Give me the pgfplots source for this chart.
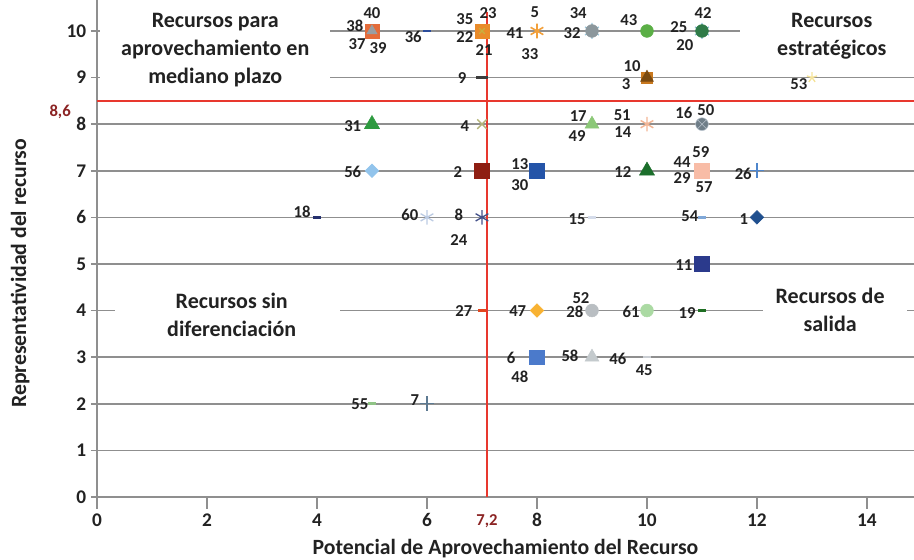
\documentclass[border=0pt]{standalone}
\usepackage{pgfplots}
\pgfplotsset{compat=1.18}
\usepackage{fontspec}
\setmainfont{Carlito}

\definecolor{gridgray}{HTML}{8F8F8F}
\definecolor{redline}{HTML}{E8382E}
\definecolor{darkred}{HTML}{8B2323}
\definecolor{txt}{HTML}{222222}

\pgfplotsset{
  dot/.style={only marks, mark options={solid}},
}
\tikzset{
  lbl/.style={font=\fontsize{12.5}{14}\selectfont\bfseries, inner sep=0pt, text=txt},
  quad/.style={font=\fontsize{16.5}{21}\selectfont\bfseries, align=center, text=txt},
}

\begin{document}
\begin{tikzpicture}
\begin{axis}[
  scale only axis,
  width=612.8pt, height=372.7pt,
  xmin=0, xmax=14.855, ymin=0, ymax=10.665,
  axis x line=bottom, axis y line=left,
  axis line style={-, gridgray, line width=1.2pt},
  xtick={0,2,...,14}, ytick={0,1,...,10},
  ymajorgrids,
  grid style={gridgray, line width=1.2pt},
  ytick align=center, xtick align=outside,
  major tick length=9pt,
  tick style={gridgray, line width=1.2pt},
  tick label style={font=\fontsize{14.5}{17}\selectfont\bfseries, text=txt},
  /pgf/number format/assume math mode=true,
  xlabel={Potencial de Aprovechamiento del Recurso},
  ylabel={Representatividad del recurso},
  label style={font=\fontsize{16.3}{19}\selectfont\bfseries, text=txt},
  xlabel style={at={(axis description cs:0.5,0)}, anchor=center, yshift=-39pt},
  ylabel style={at={(axis description cs:-0.094,0.45)}, anchor=center},
  clip=false,
]

% white boxes behind the quadrant titles
\fill[white] (axis cs:0.05,8.63) rectangle (axis cs:4.24,10.56);
\fill[white] (axis cs:11.69,9.27) rectangle (axis cs:14.855,10.56);
\fill[white] (axis cs:0.33,3.33) rectangle (axis cs:4.42,4.61);
\fill[white] (axis cs:12.11,3.33) rectangle (axis cs:14.73,4.61);

% --- y = 10
\addplot[dot, mark=square*, mark size=5.3pt, color={rgb,255:red,228;green,108;blue,58}] coordinates {(5,10)};
\addplot[dot, mark=triangle*, mark size=4.5pt, color={rgb,255:red,154;green,158;blue,162}] coordinates {(5,10)};
\addplot[dot, mark=-, mark size=3pt, line width=2pt, color={rgb,255:red,43;green,76;blue,155}] coordinates {(6,10)};
\addplot[dot, mark=square*, mark size=5.3pt, color={rgb,255:red,233;green,139;blue,42}] coordinates {(7,10)};
\addplot[dot, mark=x, mark size=3pt, line width=1pt, color={rgb,255:red,200;green,176;blue,64}] coordinates {(7,10)};
\addplot[dot, mark=asterisk, mark size=5.5pt, line width=1.2pt, color={rgb,255:red,242;green,160;blue,58}] coordinates {(8,10)};
\addplot[dot, mark=asterisk, mark size=6pt, line width=1pt, color={rgb,255:red,156;green,200;blue,220}] coordinates {(9,10)};
\addplot[dot, mark=*, mark size=4.8pt, color={rgb,255:red,140;green,151;blue,156}] coordinates {(9,10)};
\addplot[dot, mark=*, mark size=4.8pt, color={rgb,255:red,91;green,175;blue,70}] coordinates {(10,10)};
\addplot[dot, mark=asterisk, mark size=6pt, line width=1pt, color={rgb,255:red,140;green,192;blue,216}] coordinates {(11,10)};
\addplot[dot, mark=*, mark size=4.8pt, color={rgb,255:red,47;green,123;blue,72}] coordinates {(11,10)};

% --- y = 9
\addplot[dot, mark=-, mark size=4.5pt, line width=2.2pt, color={rgb,255:red,60;green,60;blue,60}] coordinates {(7,9)};
\addplot[dot, mark=square*, mark size=4pt, color={rgb,255:red,200;green,120;blue,30}] coordinates {(10,9)};
\addplot[dot, mark=triangle*, mark size=5.5pt, color={rgb,255:red,122;green,74;blue,16}] coordinates {(10,9)};
\addplot[dot, mark=star, mark size=4pt, line width=1pt, color={rgb,255:red,245;green,227;blue,154}] coordinates {(13,9)};

% --- y = 8
\addplot[dot, mark=triangle*, mark size=6.5pt, color={rgb,255:red,46;green,154;blue,64}] coordinates {(5,8)};
\addplot[dot, mark=x, mark size=5pt, line width=1pt, color={rgb,255:red,180;green,180;blue,120}] coordinates {(7,8)};
\addplot[dot, mark=triangle*, mark size=6pt, color={rgb,255:red,140;green,200;blue,120}] coordinates {(9,8)};
\addplot[dot, mark=asterisk, mark size=5.5pt, line width=1.1pt, color={rgb,255:red,242;green,181;blue,149}] coordinates {(10,8)};
\addplot[dot, mark=otimes*, mark size=4.8pt, draw={rgb,255:red,185;green,195;blue,205}, fill={rgb,255:red,111;green,126;blue,136}] coordinates {(11,8)};

% --- y = 7
\addplot[dot, mark=square*, mark size=3.6pt, mark options={rotate=45}, color={rgb,255:red,146;green,196;blue,236}] coordinates {(5,7)};
\addplot[dot, mark=square*, mark size=5.5pt, color={rgb,255:red,142;green,30;blue,18}] coordinates {(7,7)};
\addplot[dot, mark=square*, mark size=5.5pt, color={rgb,255:red,36;green,84;blue,168}] coordinates {(8,7)};
\addplot[dot, mark=triangle*, mark size=6.5pt, color={rgb,255:red,27;green,110;blue,43}] coordinates {(10,7)};
\addplot[dot, mark=square*, mark size=5.5pt, color={rgb,255:red,248;green,188;blue,166}] coordinates {(11,7)};
\addplot[dot, mark=+, mark size=5.5pt, line width=1pt, color={rgb,255:red,79;green,134;blue,204}] coordinates {(12,7)};

% --- y = 6
\addplot[dot, mark=-, mark size=3pt, line width=2pt, color={rgb,255:red,37;green,48;blue,110}] coordinates {(4,6)};
\addplot[dot, mark=asterisk, mark size=5.5pt, line width=1pt, color={rgb,255:red,188;green,203;blue,227}] coordinates {(6,6)};
\addplot[dot, mark=asterisk, mark size=5.5pt, line width=1pt, color={rgb,255:red,68;green,82;blue,138}] coordinates {(7,6)};
\addplot[dot, mark=-, mark size=3pt, line width=2pt, color={rgb,255:red,213;green,220;blue,234}] coordinates {(9,6)};
\addplot[dot, mark=-, mark size=3pt, line width=2pt, color={rgb,255:red,128;green,168;blue,216}] coordinates {(11,6)};
\addplot[dot, mark=square*, mark size=3.6pt, mark options={rotate=45}, color={rgb,255:red,31;green,79;blue,142}] coordinates {(12,6)};

% --- y = 5
\addplot[dot, mark=square*, mark size=5.5pt, color={rgb,255:red,43;green,58;blue,140}] coordinates {(11,5)};

% --- y = 4
\addplot[dot, mark=-, mark size=3pt, line width=2pt, color={rgb,255:red,226;green,70;blue,31}] coordinates {(7,4)};
\addplot[dot, mark=square*, mark size=3.6pt, mark options={rotate=45}, color={rgb,255:red,248;green,178;blue,50}] coordinates {(8,4)};
\addplot[dot, mark=*, mark size=4.8pt, color={rgb,255:red,185;green,190;blue,194}] coordinates {(9,4)};
\addplot[dot, mark=*, mark size=4.8pt, color={rgb,255:red,171;green,218;blue,163}] coordinates {(10,4)};
\addplot[dot, mark=-, mark size=3pt, line width=2pt, color={rgb,255:red,30;green,110;blue,34}] coordinates {(11,4)};

% --- y = 3
\addplot[dot, mark=square*, mark size=5.5pt, color={rgb,255:red,75;green,122;blue,203}] coordinates {(8,3)};
\addplot[dot, mark=triangle*, mark size=6pt, color={rgb,255:red,196;green,202;blue,205}] coordinates {(9,3)};
\addplot[dot, mark=-, mark size=3pt, line width=2pt, color={rgb,255:red,201;green,205;blue,210}] coordinates {(10,3)};

% --- y = 2
\addplot[dot, mark=-, mark size=3pt, line width=2pt, color={rgb,255:red,144;green,196;blue,134}] coordinates {(5,2)};
\addplot[dot, mark=+, mark size=5.5pt, line width=1pt, color={rgb,255:red,93;green,122;blue,146}] coordinates {(6,2)};

% thresholds
\addplot[redline, line width=2pt, mark=none] coordinates {(0,8.5) (14.855,8.5)};
\addplot[redline, line width=2pt, mark=none] coordinates {(7.09,0) (7.09,10.41)};

% point labels
\node[lbl] at (axis cs:5.00,10.39) {40};
\node[lbl] at (axis cs:4.69,10.11) {38};
\node[lbl] at (axis cs:4.73,9.72) {37};
\node[lbl] at (axis cs:5.11,9.64) {39};
\node[lbl] at (axis cs:5.75,9.87) {36};
\node[lbl] at (axis cs:6.69,10.26) {35};
\node[lbl] at (axis cs:7.11,10.39) {23};
\node[lbl] at (axis cs:6.69,9.87) {22};
\node[lbl] at (axis cs:7.04,9.59) {21};
\node[lbl] at (axis cs:7.60,9.96) {41};
\node[lbl] at (axis cs:7.96,10.41) {5};
\node[lbl] at (axis cs:7.87,9.51) {33};
\node[lbl] at (axis cs:8.75,10.39) {34};
\node[lbl] at (axis cs:8.64,9.96) {32};
\node[lbl] at (axis cs:9.67,10.24) {43};
\node[lbl] at (axis cs:11.02,10.39) {42};
\node[lbl] at (axis cs:10.58,10.09) {25};
\node[lbl] at (axis cs:10.69,9.70) {20};
\node[lbl] at (axis cs:6.64,8.99) {9};
\node[lbl] at (axis cs:9.73,9.25) {10};
\node[lbl] at (axis cs:9.62,8.86) {3};
\node[lbl] at (axis cs:12.76,8.86) {53};
\node[lbl] at (axis cs:4.65,7.96) {31};
\node[lbl] at (axis cs:6.69,7.96) {4};
\node[lbl] at (axis cs:8.75,8.18) {17};
\node[lbl] at (axis cs:8.73,7.75) {49};
\node[lbl] at (axis cs:9.55,8.20) {51};
\node[lbl] at (axis cs:9.56,7.83) {14};
\node[lbl] at (axis cs:10.67,8.24) {16};
\node[lbl] at (axis cs:11.07,8.30) {50};
\node[lbl] at (axis cs:4.65,6.97) {56};
\node[lbl] at (axis cs:6.56,6.97) {2};
\node[lbl] at (axis cs:7.69,7.15) {13};
\node[lbl] at (axis cs:7.69,6.70) {30};
\node[lbl] at (axis cs:9.56,6.97) {12};
\node[lbl] at (axis cs:10.64,7.19) {44};
\node[lbl] at (axis cs:10.98,7.40) {59};
\node[lbl] at (axis cs:10.64,6.85) {29};
\node[lbl] at (axis cs:11.04,6.65) {57};
\node[lbl] at (axis cs:11.75,6.93) {26};
\node[lbl] at (axis cs:3.73,6.12) {18};
\node[lbl] at (axis cs:5.69,6.05) {60};
\node[lbl] at (axis cs:6.58,6.05) {8};
\node[lbl] at (axis cs:6.58,5.52) {24};
\node[lbl] at (axis cs:8.73,5.97) {15};
\node[lbl] at (axis cs:10.78,6.03) {54};
\node[lbl] at (axis cs:11.76,5.97) {1};
\node[lbl] at (axis cs:10.67,4.98) {11};
\node[lbl] at (axis cs:6.67,3.99) {27};
\node[lbl] at (axis cs:7.65,3.99) {47};
\node[lbl] at (axis cs:8.80,4.27) {52};
\node[lbl] at (axis cs:8.69,3.97) {28};
\node[lbl] at (axis cs:9.71,3.97) {61};
\node[lbl] at (axis cs:10.73,3.95) {19};
\node[lbl] at (axis cs:7.53,2.98) {6};
\node[lbl] at (axis cs:7.69,2.58) {48};
\node[lbl] at (axis cs:8.60,3.03) {58};
\node[lbl] at (axis cs:9.47,2.96) {46};
\node[lbl] at (axis cs:9.95,2.73) {45};
\node[lbl] at (axis cs:4.78,2.00) {55};
\node[lbl] at (axis cs:5.78,2.08) {7};

% quadrant titles
\node[quad] at (axis cs:2.15,9.59) {Recursos para\\aprovechamiento en\\mediano plazo};
\node[quad] at (axis cs:13.36,9.89) {Recursos\\estratégicos};
\node[quad] at (axis cs:2.45,3.91) {Recursos sin\\diferenciación};
\node[quad] at (axis cs:13.33,4.01) {Recursos de\\salida};

% threshold values
\node[lbl, text=darkred] at (axis cs:-0.67,8.26) {8,6};
\node[lbl, text=darkred] at (axis cs:7.09,-0.53) {7,2};

\coordinate (bbsw) at (axis cs:-1.7636,-1.352);
\coordinate (bbne) at (axis cs:14.855,10.665);
\end{axis}
\pgfresetboundingbox
\path (bbsw) rectangle (bbne);
\end{tikzpicture}
\end{document}
